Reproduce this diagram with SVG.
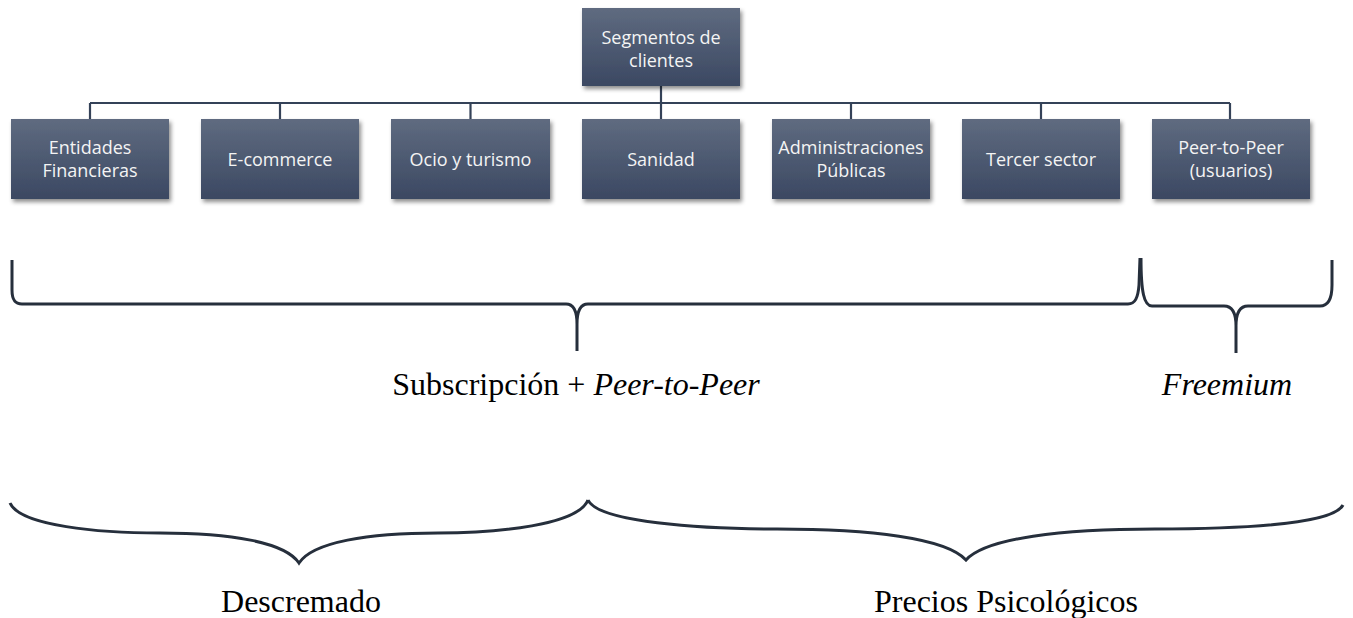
<svg xmlns="http://www.w3.org/2000/svg" width="1353" height="618" viewBox="0 0 1353 618">
<style>
.box{fill:url(#g);filter:url(#sh)}
.lbl{font-family:"Open Sans","Noto Sans",sans-serif;font-size:18px;fill:#f4f4f4;text-anchor:middle}
.conn{stroke:#344258;stroke-width:2.2;fill:none}
.brace{stroke:#262f3c;stroke-width:3;fill:none;stroke-linecap:butt}
.cap{font-family:"Liberation Serif","Times New Roman",serif;font-size:32px;fill:#000;text-anchor:middle}
</style>
<defs>
<linearGradient id="g" x1="0" y1="0" x2="0" y2="1">
<stop offset="0" stop-color="#5f6b80"/>
<stop offset="1" stop-color="#3b4862"/>
</linearGradient>
<filter id="sh" x="-10%" y="-10%" width="125%" height="135%">
<feDropShadow dx="2" dy="3" stdDeviation="2" flood-color="#000" flood-opacity="0.45"/>
</filter>
</defs>
<g id="connectors">
<path class="conn" d="M661,86 V119 M90,103 H1230 M90,103 V119 M280,103 V119 M470.5,103 V119 M851,103 V119 M1041,103 V119 M1230,103 V119"/>
</g>
<g id="root"><rect class="box" x="582" y="8" width="158" height="78"/><text class="lbl" x="661" y="44">Segmentos de</text><text class="lbl" x="661" y="67">clientes</text></g>
<g id="n1"><rect class="box" x="11" y="119" width="158" height="80"/><text class="lbl" x="90" y="154">Entidades</text><text class="lbl" x="90" y="177">Financieras</text></g>
<g id="n2"><rect class="box" x="201" y="119" width="158" height="80"/><text class="lbl" x="280" y="166">E-commerce</text></g>
<g id="n3"><rect class="box" x="391" y="119" width="159" height="80"/><text class="lbl" x="470.5" y="166">Ocio y turismo</text></g>
<g id="n4"><rect class="box" x="582" y="119" width="158" height="80"/><text class="lbl" x="661" y="166">Sanidad</text></g>
<g id="n5"><rect class="box" x="772" y="119" width="158" height="80"/><text class="lbl" x="851" y="154">Administraciones</text><text class="lbl" x="851" y="177">Públicas</text></g>
<g id="n6"><rect class="box" x="962" y="119" width="158" height="80"/><text class="lbl" x="1041" y="166">Tercer sector</text></g>
<g id="n7"><rect class="box" x="1152" y="119" width="158" height="80"/><text class="lbl" x="1231" y="154">Peer-to-Peer</text><text class="lbl" x="1231" y="177">(usuarios)</text></g>
<g id="braces">
<path class="brace" d="M12,260 L12,290 C12,300 15,304 22,304 L566,304 C573,304 577,310 577,324 L577,351 M577,324 C577,310 581,304 588,304 L1128,304 C1135,304 1138,298 1139,285 L1140,258"/>
<path class="brace" d="M1141,258 C1141,292 1144,306 1152,306 L1224,306 C1232,306 1236,312 1236,326 L1236,353 M1236,326 C1236,312 1240,306 1248,306 L1320,306 C1328,306 1332,298 1332,285 L1332,260"/>
<path class="brace" d="M10,503 C20,526 100,533 160,533 C230,533 285,542 299,563 C313,542 368,533 438,533 C498,533 578,525 588,500"/>
<path class="brace" d="M588,500 C598,522 700,529 777,529 C870,529 946,538 966,560 C986,538 1062,529 1155,529 C1232,529 1333,525 1343,505"/>
</g>
<g id="labels">
<text class="cap" x="576" y="395">Subscripción + <tspan font-style="italic">Peer-to-Peer</tspan></text>
<text class="cap" x="1227" y="395" font-style="italic">Freemium</text>
<text class="cap" x="301" y="612">Descremado</text>
<text class="cap" x="1006" y="612">Precios Psicológicos</text>
</g>
</svg>
